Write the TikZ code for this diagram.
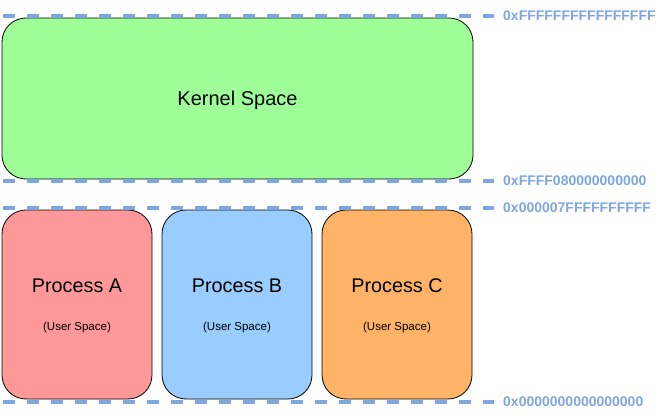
\documentclass[tikz,border=0pt]{standalone}
\usepackage{fontspec}
\setmainfont{Liberation Sans}
\definecolor{addr}{HTML}{7EA6E0}
\definecolor{kgreen}{HTML}{9EFF99}
\definecolor{pred}{HTML}{FF9999}
\definecolor{pblue}{HTML}{99CCFF}
\definecolor{porange}{HTML}{FFB366}
\begin{document}
\begin{tikzpicture}[x=1pt,y=-1pt,
  region/.style={draw=black, line width=0.8pt, rounded corners=24pt},
  bound/.style={draw=addr, line width=3.5pt, dash pattern=on 12pt off 12pt, dash phase=-3pt},
  addrlabel/.style={anchor=west, text=addr, font=\fontsize{14}{16}\selectfont\bfseries, inner sep=0pt},
  big/.style={font=\fontsize{19.8}{23}\selectfont},
  small/.style={font=\fontsize{11.5}{13}\selectfont}]
\useasboundingbox (0,0) rectangle (659,418);
% regions
\filldraw[region, fill=kgreen] (2,18) rectangle (473,179);
\filldraw[region, fill=pred] (2,210) rectangle (152,399);
\filldraw[region, fill=pblue] (162,210) rectangle (312,399);
\filldraw[region, fill=porange] (322,210) rectangle (472,399);
% boundaries
\coordinate (t0) at (0,16); \coordinate (t1) at (494,16);
\coordinate (k0) at (0,181); \coordinate (k1) at (494,181);
\coordinate (u0) at (0,208); \coordinate (u1) at (494,208);
\coordinate (z0) at (0,402); \coordinate (z1) at (494,402);
\draw[bound] (t0) -- (t1);
\draw[bound] (k0) -- (k1);
\draw[bound] (u0) -- (u1);
\draw[bound] (z0) -- (z1);
% labels
\node[addrlabel] (la) at (503,16) {0xFFFFFFFFFFFFFFFF};
\node[addrlabel] (lb) at (503,181) {0xFFFF080000000000};
\node[addrlabel] (lc) at (503,208) {0x000007FFFFFFFFFF};
\node[addrlabel] (ld) at (503,402) {0x0000000000000000};
% texts
\node[font=\fontsize{20}{23}\selectfont] (kern) at (237.5,100) {Kernel Space};
\node[big] (pa) at (77,286) {Process A};
\node[small] (ua) at (77,327.5) {(User Space)};
\node[big] (pb) at (237,286) {Process B};
\node[small] (ub) at (237,327.5) {(User Space)};
\node[big] (pc) at (397,286) {Process C};
\node[small] (uc) at (397,327.5) {(User Space)};
\end{tikzpicture}
\end{document}
